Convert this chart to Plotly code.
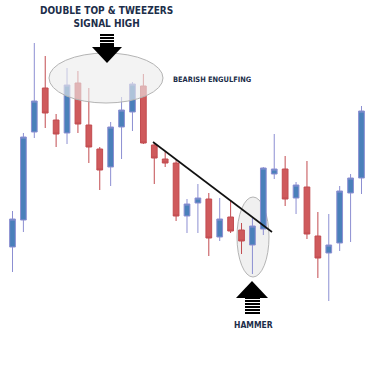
import plotly.graph_objects as go

W, H = 375, 366

# candle data (arbitrary price units)
candle_index = list(range(1, 34))
open_ = [63, 90, 178, 222, 190, 177, 227, 185, 161, 143, 183, 198, 224, 165, 151, 147, 94,
         107, 111, 73, 93, 80, 65, 81, 136, 141, 112, 123, 74, 57, 67, 117, 132]
close = [91, 173, 209, 197, 176, 225, 186, 163, 140, 183, 200, 226, 167, 152, 147, 94, 106,
         112, 72, 91, 79, 69, 84, 142, 141, 111, 125, 76, 52, 65, 119, 132, 199]
high = [99, 177, 267, 254, 196, 242, 239, 222, 163, 188, 213, 228, 236, 167, 158, 150, 111,
        126, 117, 112, 109, 87, 92, 143, 176, 154, 128, 149, 98, 96, 124, 136, 204]
low = [38, 78, 172, 182, 163, 166, 177, 147, 120, 124, 151, 179, 166, 126, 143, 89, 77,
       77, 54, 69, 77, 56, 36, 75, 131, 104, 96, 71, 32, 9, 59, 68, 116]

title_lines = ["DOUBLE TOP & TWEEZERS", "SIGNAL HIGH"]
label_engulf = "BEARISH ENGULFING"
label_hammer = "HAMMER"

BLUE = "#4a80ba"
BLUE_LINE = "#8c8fd2"
RED = "#cf5a5c"
RED_LINE = "#c24c50"
NAVY = "#1c2e4a"
FONT = "DejaVu Sans Condensed"


def px(x):
    return x / W


def py(y):
    return 1 - y / H


fig = go.Figure()
fig.add_trace(go.Candlestick(
    x=candle_index, open=open_, high=high, low=low, close=close,
    increasing=dict(fillcolor=BLUE, line=dict(color=BLUE_LINE, width=1)),
    decreasing=dict(fillcolor=RED, line=dict(color=RED_LINE, width=1)),
    whiskerwidth=0, hoverinfo="skip", showlegend=False,
))

shapes = []
# ellipses
shapes.append(dict(type="circle", xref="paper", yref="paper",
                   x0=px(49), x1=px(163), y0=py(103), y1=py(53),
                   fillcolor="rgba(236,236,236,0.62)", line=dict(color="#b4b4b4", width=1),
                   layer="above"))
shapes.append(dict(type="circle", xref="paper", yref="paper",
                   x0=px(237), x1=px(269), y0=py(277), y1=py(197),
                   fillcolor="#f0f0f0", line=dict(color="#b4b4b4", width=1),
                   layer="below"))
# trend line
shapes.append(dict(type="line", xref="paper", yref="paper",
                   x0=px(153), y0=py(142), x1=px(272), y1=py(232),
                   line=dict(color="#111111", width=1.6), layer="above"))


def path(points):
    s = "M " + " L ".join(f"{px(a):.5f},{py(b):.5f}" for a, b in points) + " Z"
    return s


# top arrow (down)
shapes.append(dict(type="path", xref="paper", yref="paper",
                   path=path([(92, 47), (122, 47), (107, 63)]),
                   fillcolor="#000000", line=dict(width=0), layer="above"))
for y in [34, 37, 40, 43, 45]:
    shapes.append(dict(type="rect", xref="paper", yref="paper",
                       x0=px(100), x1=px(114), y0=py(y + 2), y1=py(y),
                       fillcolor="#000000", line=dict(width=0), layer="above"))
# bottom arrow (up)
shapes.append(dict(type="path", xref="paper", yref="paper",
                   path=path([(236, 298), (268, 298), (252, 281)]),
                   fillcolor="#000000", line=dict(width=0), layer="above"))
for y in [297, 300, 303, 306, 309, 312]:
    shapes.append(dict(type="rect", xref="paper", yref="paper",
                       x0=px(245), x1=px(260), y0=py(y + 2), y1=py(y),
                       fillcolor="#000000", line=dict(width=0), layer="above"))

annotations = [
    dict(text=f"<b>{title_lines[0]}</b><br><b>{title_lines[1]}</b>", x=px(106), y=py(17),
         xref="paper", yref="paper",
         showarrow=False, xanchor="center", yanchor="middle",
         font=dict(family=FONT, size=10, color=NAVY)),
    dict(text=f"<b>{label_engulf}</b>", x=px(212), y=py(79), xref="paper", yref="paper",
         showarrow=False, xanchor="center", yanchor="middle",
         font=dict(family=FONT, size=7.4, color=NAVY)),
    dict(text=f"<b>{label_hammer}</b>", x=px(253), y=py(325), xref="paper", yref="paper",
         showarrow=False, xanchor="center", yanchor="middle",
         font=dict(family=FONT, size=8.5, color=NAVY)),
]

fig.update_layout(
    width=W, height=H, autosize=False,
    margin=dict(l=0, r=0, t=0, b=0),
    paper_bgcolor="white", plot_bgcolor="white",
    boxgap=0.25,
    xaxis=dict(range=[-0.146, 34.239], visible=False, rangeslider=dict(visible=False),
               fixedrange=True),
    yaxis=dict(range=[-56, 310], visible=False, fixedrange=True),
    shapes=shapes, annotations=annotations,
    showlegend=False, hovermode=False,
)

fig.write_html("out.html", config={"displayModeBar": False})
